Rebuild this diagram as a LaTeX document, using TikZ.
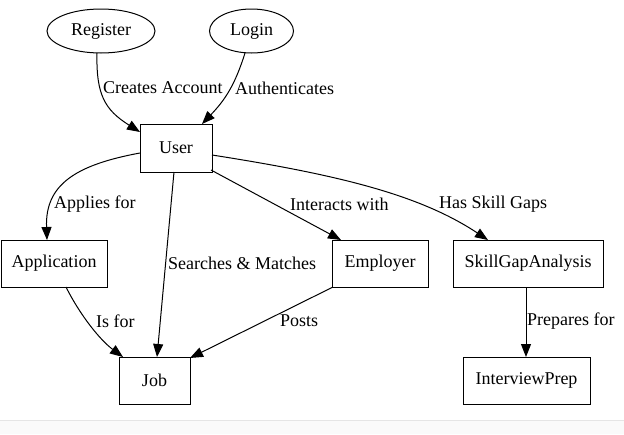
\documentclass[tikz,border=0pt]{standalone}
\usepackage{fontspec}
\setmainfont{Liberation Serif}
\usetikzlibrary{arrows.meta,shapes.geometric}
\begin{document}
\begin{tikzpicture}[x=1pt,y=-1pt,
  every node/.style={font=\fontsize{18}{20}\selectfont},
  rbox/.style={draw,line width=1pt,rectangle,inner sep=0pt},
  ell/.style={draw,line width=1pt,ellipse,inner sep=0pt},
  lbl/.style={anchor=west,inner sep=0pt},
  edge/.style={line width=1pt,-{Triangle[length=13pt,width=10pt]}}]
\useasboundingbox (0,0) rectangle (624,434);
\fill[gray!4] (0,421) rectangle (624,434);
\draw[gray!20,line width=1pt] (0,420.5) -- (624,420.5);
% nodes
\node[ell,minimum width=108,minimum height=44] (reg) at (101,31) {Register};
\node[ell,minimum width=84,minimum height=44] (log) at (251.5,31) {Login};
\node[rbox,minimum width=72,minimum height=48] (user) at (176,148) {User};
\node[rbox,minimum width=106,minimum height=47] (app) at (54,263.5) {Application};
\node[rbox,minimum width=96,minimum height=47] (emp) at (380,263.5) {Employer};
\node[rbox,minimum width=150,minimum height=47] (sga) at (528,263.5) {SkillGapAnalysis};
\node[rbox,minimum width=71,minimum height=47] (job) at (154.5,380.5) {Job};
\node[rbox,minimum width=127,minimum height=47] (ip) at (526.5,380.5) {InterviewPrep};
% helper coordinates
\coordinate (regS) at (97,53);
\coordinate (userRT) at (140,132);
\coordinate (logS) at (245,53);
\coordinate (userLT) at (202,124);
\coordinate (userL) at (140,153);
\coordinate (appT) at (47,240);
\coordinate (userB) at (174,172);
\coordinate (jobT) at (157,357);
\coordinate (userBR) at (211,170);
\coordinate (empT) at (341,240);
\coordinate (userR) at (212,155);
\coordinate (sgaT) at (488,240);
\coordinate (appB) at (66,287);
\coordinate (jobTL) at (123,357);
\coordinate (empBL) at (333,287);
\coordinate (jobTR) at (190,358);
\coordinate (sgaB) at (526,287);
\coordinate (ipT) at (526,357);
% edges
\draw[edge] (regS) .. controls (96,95) and (105,110) .. (userRT);
\draw[edge] (logS) .. controls (235,85) and (225,100) .. (userLT);
\draw[edge] (userL) .. controls (75,165) and (45,185) .. (appT);
\draw[edge] (userB) -- (jobT);
\draw[edge] (userBR) -- (empT);
\draw[edge] (userR) .. controls (340,175) and (420,195) .. (sgaT);
\draw[edge] (appB) .. controls (80,315) and (100,340) .. (jobTL);
\draw[edge] (empBL) -- (jobTR);
\draw[edge] (sgaB) -- (ipT);
% labels
\node[lbl] (l1) at (103,88) {Creates Account};
\node[lbl] (l2) at (235,88) {Authenticates};
\node[lbl] (l3) at (54,204) {Applies for};
\node[lbl] (l4) at (290,204) {Interacts with};
\node[lbl] (l5) at (439,204) {Has Skill Gaps};
\node[lbl] (l6) at (168,263) {Searches \& Matches};
\node[lbl] (l7) at (96,321) {Is for};
\node[lbl] (l8) at (280,321) {Posts};
\node[lbl] (l9) at (527,321) {Prepares for};
\end{tikzpicture}
\end{document}
